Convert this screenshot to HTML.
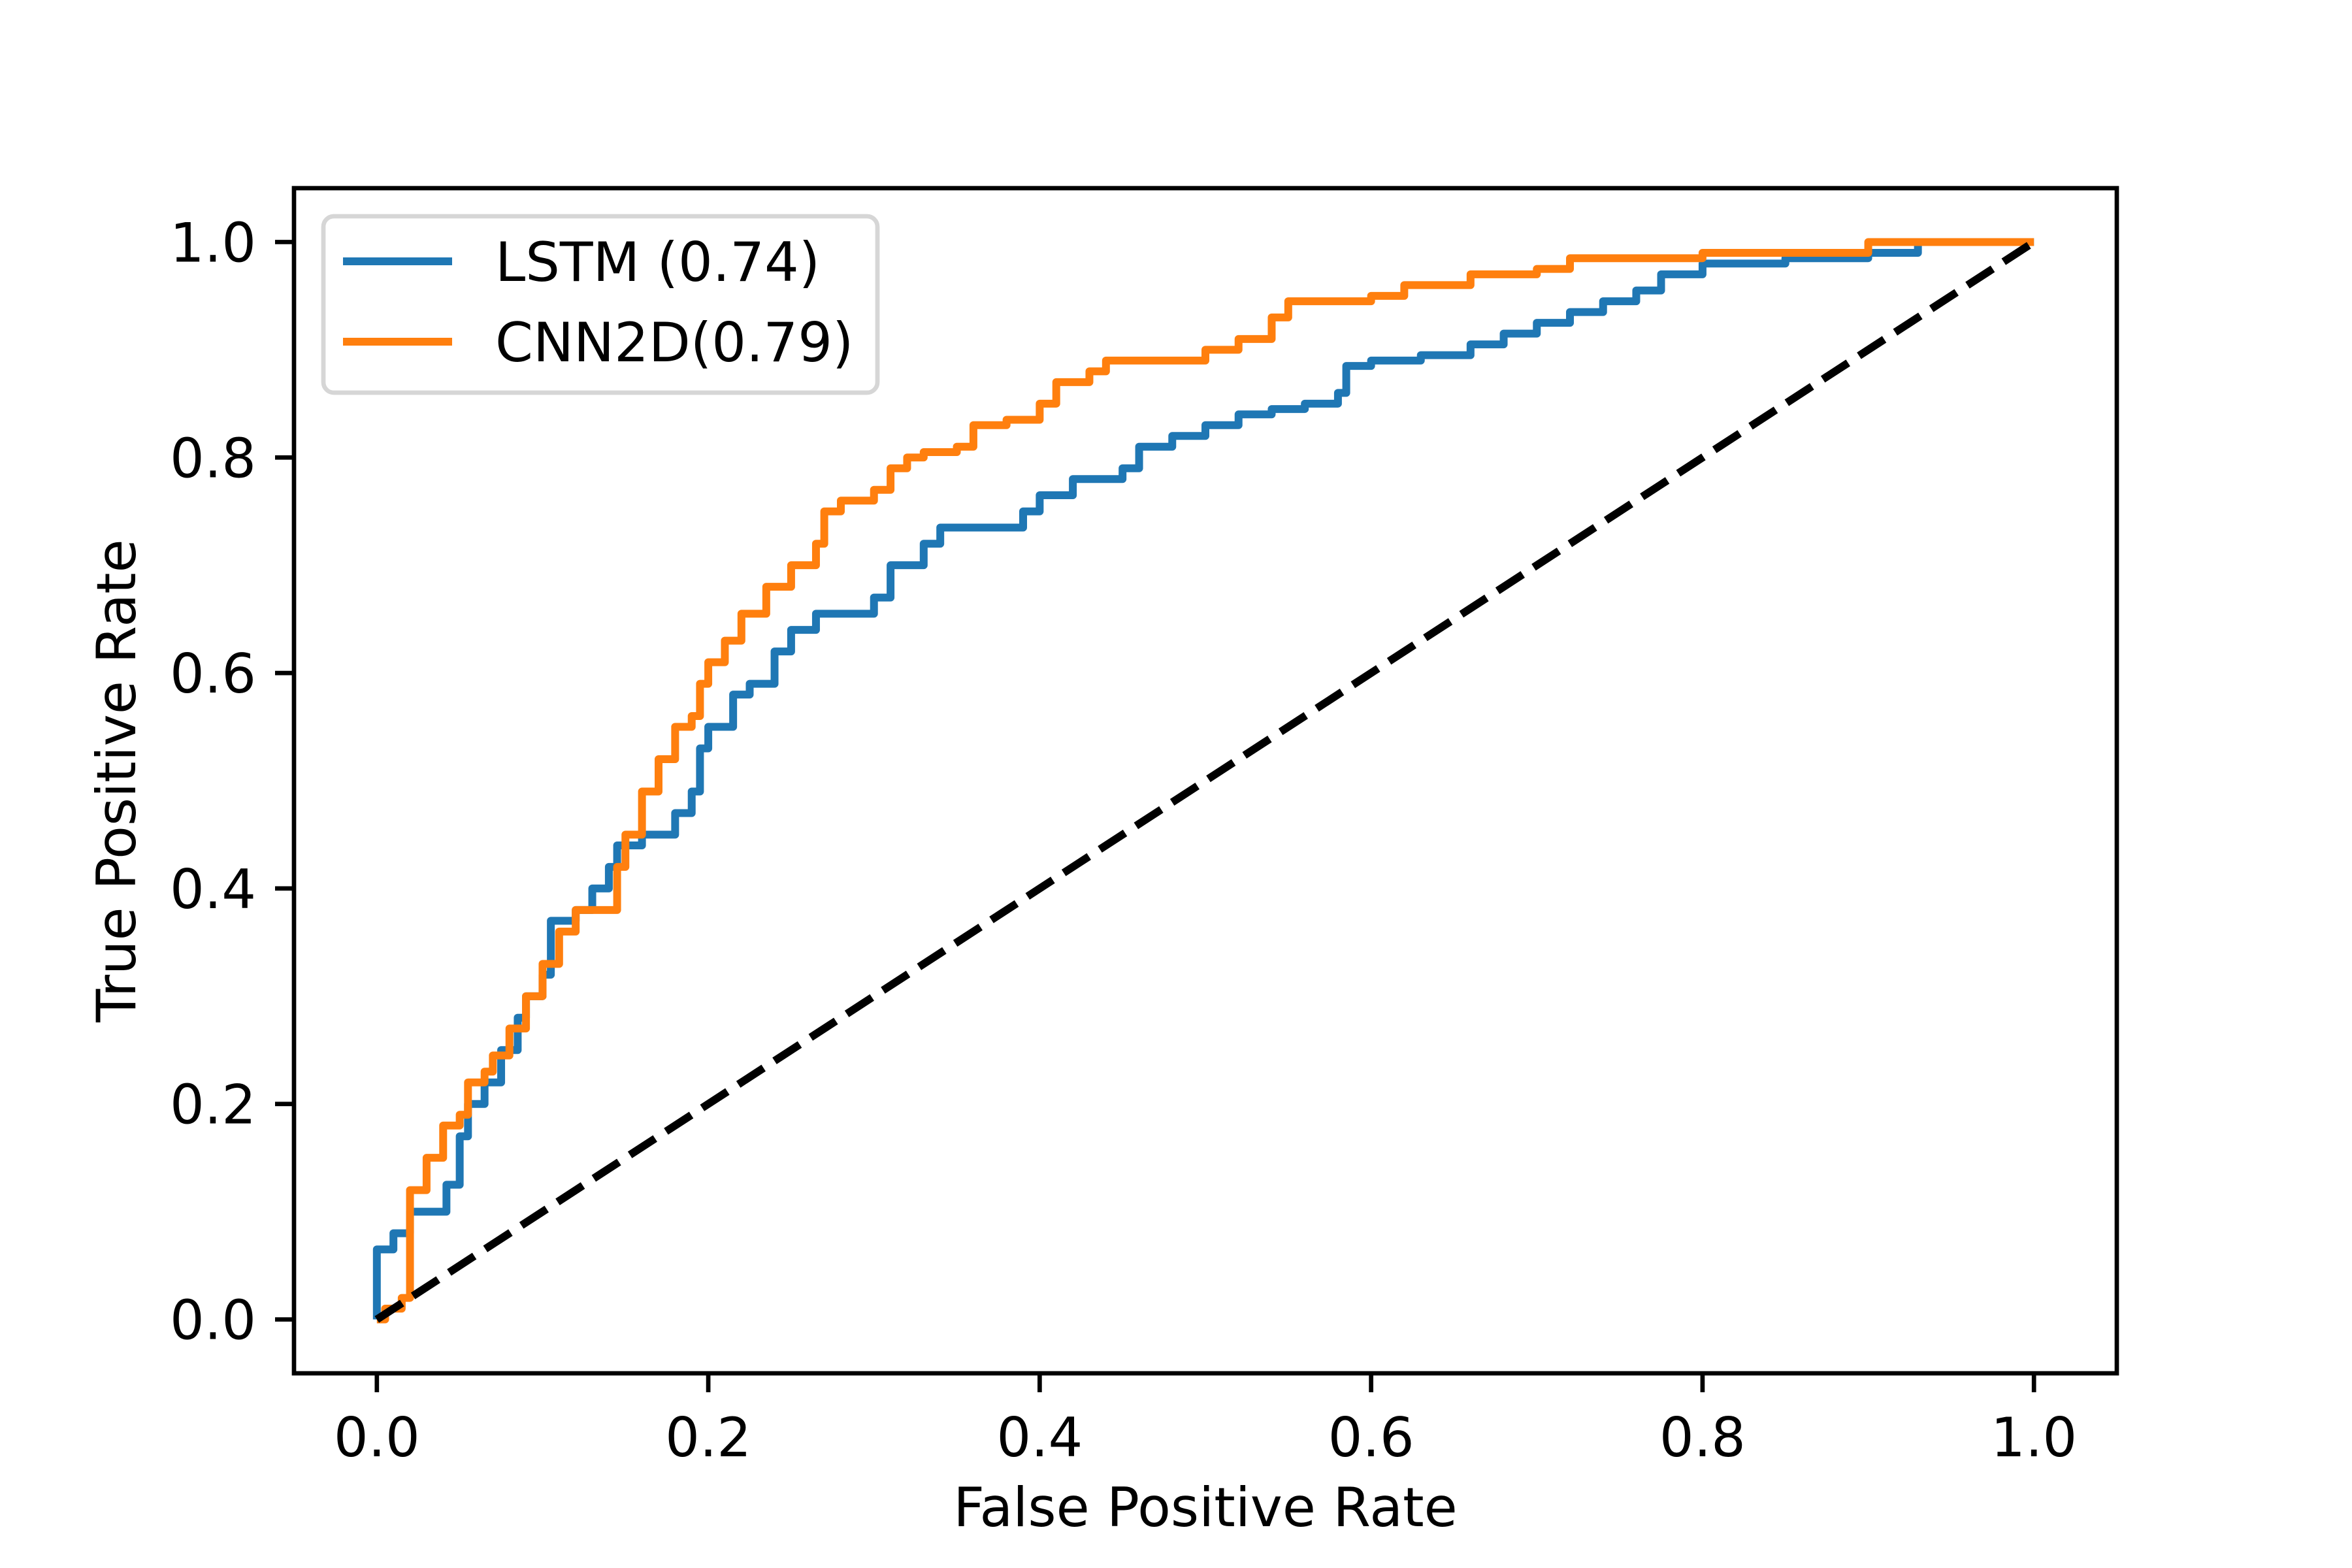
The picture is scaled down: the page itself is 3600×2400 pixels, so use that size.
<!DOCTYPE html>
<html><head><meta charset="utf-8"><style>html,body{margin:0;padding:0;background:#fff}svg{display:block}text{font-family:"DejaVu Sans","Liberation Sans",sans-serif;fill:#000}</style></head>
<body>
<svg id="chart" width="3600" height="2400" viewBox="0 0 3600 2400" xmlns="http://www.w3.org/2000/svg">
<rect width="3600" height="2400" fill="#fff"/>
<g id="plot"></g>
</svg>
<script>
const xTicks=[0,0.2,0.4,0.6,0.8,1.0];
const yTicks=[0,0.2,0.4,0.6,0.8,1.0];
const tickLabels=["0.0","0.2","0.4","0.6","0.8","1.0"];
const lstmFpr=[0,0,0.01,0.02,0.04,0.042,0.05,0.05,0.055,0.065,0.075,0.085,0.09,0.1,0.105,0.105,0.12,0.13,0.14,0.145,0.16,0.18,0.19,0.195,0.2,0.215,0.225,0.24,0.24,0.25,0.265,0.29,0.3,0.31,0.33,0.34,0.37,0.39,0.4,0.42,0.45,0.46,0.48,0.5,0.52,0.54,0.56,0.58,0.585,0.6,0.63,0.66,0.68,0.7,0.72,0.74,0.76,0.775,0.8,0.85,0.9,0.93,1];
const lstmTpr=[0,0.065,0.08,0.1,0.1,0.125,0.125,0.17,0.2,0.22,0.25,0.28,0.3,0.32,0.32,0.37,0.38,0.4,0.42,0.44,0.45,0.47,0.49,0.53,0.55,0.58,0.59,0.6,0.62,0.64,0.655,0.655,0.67,0.7,0.72,0.735,0.735,0.75,0.765,0.78,0.79,0.81,0.82,0.83,0.84,0.845,0.85,0.86,0.885,0.89,0.895,0.905,0.915,0.925,0.935,0.945,0.955,0.97,0.98,0.985,0.99,1.0,1.0];
const cnnFpr=[0,0.005,0.015,0.02,0.03,0.04,0.05,0.055,0.065,0.07,0.08,0.09,0.1,0.11,0.12,0.14,0.145,0.15,0.16,0.17,0.18,0.19,0.195,0.2,0.21,0.22,0.235,0.25,0.265,0.27,0.28,0.3,0.31,0.32,0.33,0.35,0.36,0.38,0.4,0.41,0.43,0.44,0.48,0.5,0.52,0.54,0.55,0.58,0.6,0.62,0.66,0.7,0.72,0.76,0.8,0.9,1];
const cnnTpr=[0,0.01,0.02,0.12,0.15,0.18,0.19,0.22,0.23,0.245,0.27,0.3,0.33,0.36,0.38,0.38,0.42,0.45,0.49,0.52,0.55,0.56,0.59,0.61,0.63,0.655,0.68,0.7,0.72,0.75,0.76,0.77,0.79,0.8,0.805,0.81,0.83,0.835,0.85,0.87,0.88,0.89,0.89,0.9,0.91,0.93,0.945,0.945,0.95,0.96,0.97,0.975,0.985,0.985,0.99,1.0,1.0];
const seriesNames=["LSTM (0.74)","CNN2D(0.79)"];
const L=450,R=3240,T=288,B=2102;
const sx=v=>L+(v+0.05)/1.1*(R-L);
const sy=v=>B-(v+0.05)/1.1*(B-T);
const NS="http://www.w3.org/2000/svg";
const g=document.getElementById('plot');
function mk(tag,attrs,parent){const e=document.createElementNS(NS,tag);for(const k in attrs)e.setAttribute(k,attrs[k]);(parent||g).appendChild(e);return e;}
function stepPath(xs,ys){let d="M"+sx(xs[0])+","+sy(ys[0]);for(let i=1;i<xs.length;i++){d+=" L"+sx(xs[i])+","+sy(ys[i-1])+" L"+sx(xs[i])+","+sy(ys[i]);}return d;}
const p1=mk('path',{d:stepPath(lstmFpr,lstmTpr),fill:'none',stroke:'#1f77b4','stroke-width':12,'stroke-linejoin':'round'});


const p2=mk('path',{d:stepPath(cnnFpr,cnnTpr),fill:'none',stroke:'#ff7f0e','stroke-width':12,'stroke-linejoin':'round'});


const diag=mk('line',{x1:sx(0),y1:sy(0),x2:sx(1),y2:sy(1),stroke:'#000','stroke-width':12,'stroke-dasharray':'46,20'});


const frame=mk('rect',{x:L,y:T,width:R-L,height:B-T,fill:'none',stroke:'#000','stroke-width':6.7});


xTicks.forEach((v,i)=>{
 const t=mk('line',{x1:sx(v),y1:B,x2:sx(v),y2:B+29,stroke:'#000','stroke-width':6.7});
 
 
 const tx=mk('text',{x:sx(v),y:B+127,'font-size':83,'text-anchor':'middle'});
 
 
 tx.textContent=tickLabels[i];
});
yTicks.forEach((v,i)=>{
 const t=mk('line',{x1:L-29,y1:sy(v),x2:L,y2:sy(v),stroke:'#000','stroke-width':6.7});
 
 
 const tx=mk('text',{x:392,y:sy(v)+30,'font-size':83,'text-anchor':'end'});
 
 
 tx.textContent=tickLabels[i];
});
const xl=mk('text',{x:(L+R)/2,y:2336,'font-size':83,'text-anchor':'middle'});


xl.textContent="False Positive Rate";
const yl=mk('text',{x:0,y:0,'font-size':83,'text-anchor':'middle',transform:'translate(207,'+((T+B)/2)+') rotate(-90)'});


yl.textContent="True Positive Rate";
const lg=mk('g',{});


const lb=mk('rect',{x:495,y:331,width:848,height:270,rx:16,fill:'#fff','fill-opacity':0.8,stroke:'#d6d6d6','stroke-width':6.7},lg);


const colors=['#1f77b4','#ff7f0e'];
seriesNames.forEach((n,i)=>{
 const y=400+i*123;
 const ll=mk('line',{x1:525,y1:y,x2:692,y2:y,stroke:colors[i],'stroke-width':12},lg);
 
 
 const lt=mk('text',{x:758,y:y+30,'font-size':83},lg);
 
 
 lt.textContent=n;
});
</script>
</body></html>
